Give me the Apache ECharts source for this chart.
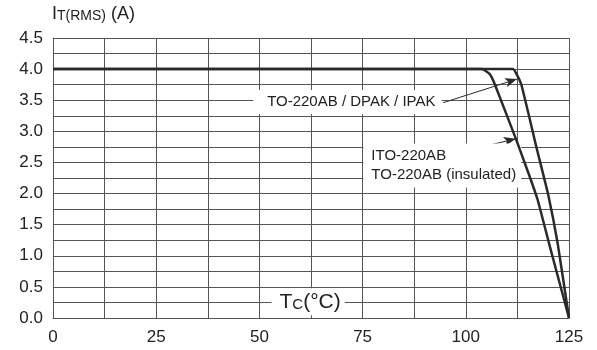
<!DOCTYPE html>
<html>
<head>
<meta charset="utf-8">
<script src="https://cdn.jsdelivr.net/npm/echarts@6/dist/echarts.min.js"></script>
<style>
  html, body { margin: 0; padding: 0; background: #fff; }
  #chart { width: 597px; height: 350px; }
</style>
</head>
<body>
<div id="chart"></div>
<script>
// case temperature (°C) vs max RMS on-state current (A)
const xTicks = [0, 25, 50, 75, 100, 125]
const yTicks = [0, 0.5, 1, 1.5, 2, 2.5, 3, 3.5, 4, 4.5]
const curveStd = [[0, 4], [111.4, 4], [112.3, 3.92], [113.5, 3.74], [117.2, 2.72], [120, 1.97], [122.3, 1.18], [125, 0]]
const curveIso = [[0, 4], [103.9, 4], [105.8, 3.92], [107, 3.76], [112.3, 2.85], [115.6, 2.25], [117.4, 1.9], [120.4, 1.14], [125, 0]]
const arrowStd = [[94.5, 3.46], [112.4, 3.84]]
const arrowIso = [[101.4, 2.71], [112.1, 2.88]]

const font = 'Liberation Sans, Arial, sans-serif'
const gridColor = '#555'
const ink = '#2a2a2a'

const chart = echarts.init(document.getElementById('chart'))

const option = {
  animation: false,
  backgroundColor: '#fff',
  grid: { left: 53, right: 28, top: 38, bottom: 32 },
  xAxis: {
    type: 'value',
    min: 0,
    max: 125,
    interval: 12.5,
    axisLine: { show: true, lineStyle: { color: gridColor, width: 1 } },
    axisTick: { show: false },
    splitLine: { show: true, lineStyle: { color: gridColor, width: 1 } },
    axisLabel: {
      color: '#222', fontFamily: font, fontSize: 17, margin: 11,
      formatter: v => xTicks.includes(v) ? String(v) : ''
    }
  },
  yAxis: {
    type: 'value',
    min: 0,
    max: 4.5,
    interval: 0.25,
    axisLine: { show: true, lineStyle: { color: gridColor, width: 1 } },
    axisTick: { show: false },
    splitLine: { show: true, lineStyle: { color: gridColor, width: 1 } },
    axisLabel: {
      color: '#222', fontFamily: font, fontSize: 17, margin: 10,
      formatter: v => yTicks.some(t => Math.abs(t - v) < 1e-6) ? v.toFixed(1) : ''
    }
  },
  graphic: [{
    type: 'text',
    left: 52,
    top: 5,
    style: {
      text: '{a|I}{b|T(RMS)}{a| (A)}',
      rich: {
        a: { fontFamily: font, fontSize: 18, fill: '#222', verticalAlign: 'bottom' },
        b: { fontFamily: font, fontSize: 14, fill: '#222', padding: [9, 0, 0, 0], verticalAlign: 'bottom' }
      }
    }
  }],
  series: [
    {
      name: 'TO-220AB / DPAK / IPAK',
      type: 'line',
      data: curveStd,
      symbol: 'none',
      smooth: 0.15,
      lineStyle: { color: ink, width: 2.5 },
      z: 5,
      markLine: {
        silent: true,
        symbol: ['none', 'arrow'],
        symbolSize: [7, 12],
        lineStyle: { color: ink, width: 1, type: 'solid' },
        label: { show: false },
        data: [
          [{ coord: arrowStd[0] }, { coord: arrowStd[1] }],
          [{ coord: arrowIso[0] }, { coord: arrowIso[1] }]
        ]
      },
      markPoint: {
        silent: true,
        symbolSize: 0,
        data: [
          {
            coord: [71.3, 3.47],
            label: {
              show: true, position: 'inside', formatter: 'TO-220AB / DPAK / IPAK',
              fontFamily: font, fontSize: 15, color: '#222',
              backgroundColor: '#fff', padding: [5, 6, 4, 14]
            }
          },
          {
            coord: [94.3, 2.45],
            label: {
              show: true, position: 'inside', align: 'center',
              formatter: '{t|ITO-220AB}\n{t|TO-220AB (insulated)}',
              rich: { t: { fontFamily: font, fontSize: 15, color: '#222', lineHeight: 19, align: 'left' } },
              backgroundColor: '#fff', padding: [3, 5, 3, 8]
            }
          },
          {
            coord: [61.8, 0.26],
            label: {
              show: true, position: 'inside',
              formatter: '{a|T}{b|C}{a|(°C)}',
              rich: {
                a: { fontFamily: font, fontSize: 21, color: '#222', verticalAlign: 'bottom' },
                b: { fontFamily: font, fontSize: 15, color: '#222', padding: [6, 0, 0, 0], verticalAlign: 'bottom' }
              },
              backgroundColor: '#fff', padding: [3, 4, 3, 8]
            }
          }
        ]
      }
    },
    {
      name: 'ITO-220AB',
      type: 'line',
      data: curveIso,
      symbol: 'none',
      smooth: 0.15,
      lineStyle: { color: ink, width: 2.5 },
      z: 5
    }
  ]
}

chart.setOption(option)
</script>
</body>
</html>
